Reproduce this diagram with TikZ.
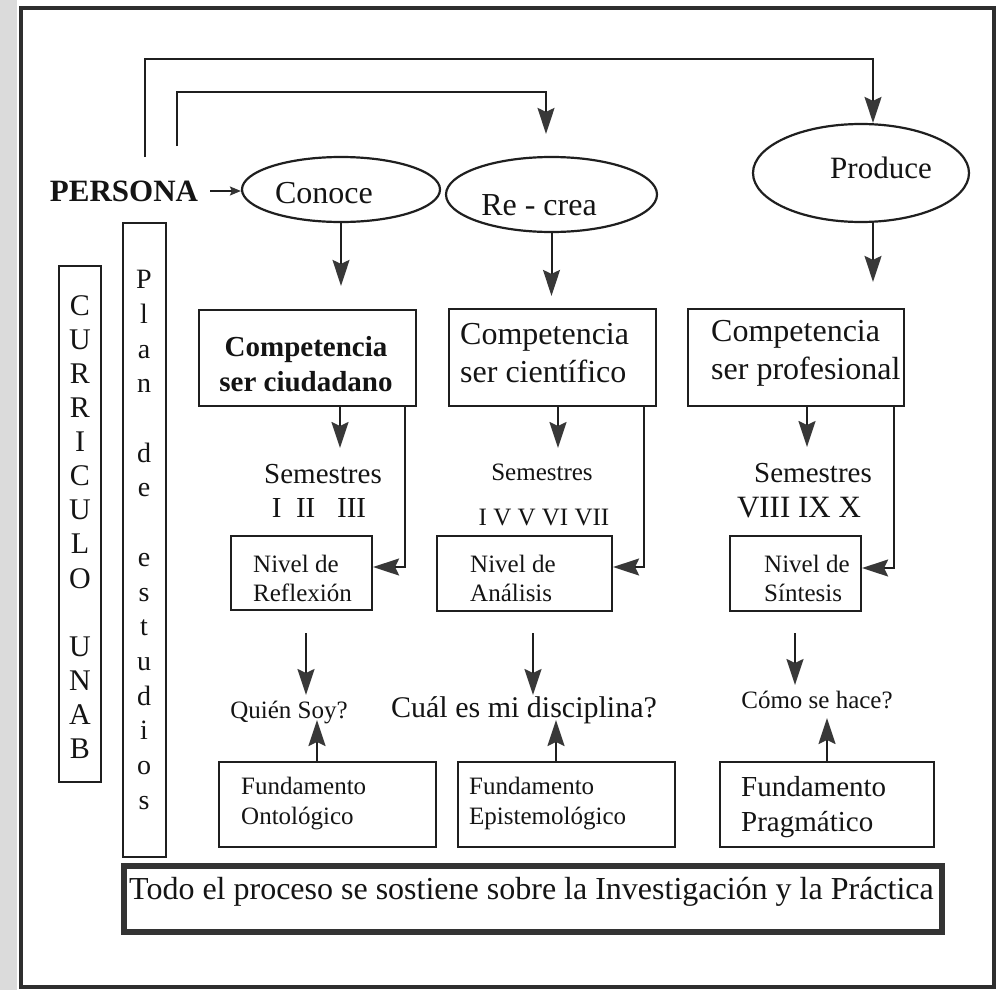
\documentclass[tikz,border=0pt]{standalone}
\usepackage{fontspec}
\setmainfont{Liberation Serif}
\usetikzlibrary{arrows.meta,shapes.geometric}

\tikzset{
  ink/.style={draw=black!88, line width=2.2pt},
  box/.style={ink, rectangle, inner sep=0pt},
  oval/.style={ink, ellipse, inner sep=0pt},
  txt/.style={inner sep=0pt, text=black!92},
  arr/.style={draw=black!88, line width=2pt,
    -{Stealth[length=26pt,width=17pt,inset=4pt,color=black!78]}},
  smallarr/.style={draw=black!88, line width=1.8pt,
    -{Stealth[length=11pt,width=9pt,inset=2pt,color=black!80]}},
  f/.style={font=\fontsize{#1}{#1}\selectfont},
}

\begin{document}
\begin{tikzpicture}[x=1pt,y=-1pt]
\useasboundingbox (0,0) rectangle (1000,990);
\fill[white] (0,0) rectangle (1000,990);
% scanned page edge and outer frame
\fill[black!14] (0,0) rectangle (17,990);
\draw[draw=black!82, line width=4.5pt] (21,8) rectangle (994,987);

% --- top row ---
\node[txt, font=\fontsize{31}{36}\selectfont\bfseries] (persona) at (124,191) {PERSONA};
\node[oval, minimum width=198pt, minimum height=65pt] (conoce) at (341,189.5) {};
\node[txt, font=\fontsize{32}{38}\selectfont] (conoceT) at (324,193) {Conoce};
\node[oval, minimum width=211pt, minimum height=75pt] (recrea) at (551.5,194.5) {};
\node[txt, font=\fontsize{32}{38}\selectfont] (recreaT) at (539,205) {Re - crea};
\node[oval, minimum width=216pt, minimum height=98pt] (produce) at (861,173) {};
\node[txt, font=\fontsize{31}{37}\selectfont] (produceT) at (881,168) {Produce};

\draw[smallarr, shorten <=12pt] (persona.east) -- (persona.east -| conoce.west);

\coordinate (o1) at (145,157);
\coordinate (k1) at (873,59);
\coordinate (o2) at (177,146);
\coordinate (k2) at (546,92);
\draw[arr] (o1) |- (k1) -- (produce.north -| k1);
\draw[arr, shorten >=22pt] (o2) |- (k2) -- (recrea.north -| k2);

% --- competence boxes ---
\node[box, minimum width=217pt, minimum height=96pt] (ciud) at (307.5,358) {};
\node[txt, font=\fontsize{29}{35}\selectfont\bfseries, align=center] (ciudT) at (306,364) {Competencia\\ser ciudadano};
\node[box, minimum width=207pt, minimum height=97pt] (cien) at (552.5,357.5) {};
\node[txt, font=\fontsize{32}{38}\selectfont, align=left, anchor=west] (cienT) at (460,353) {Competencia\\ser científico};
\node[box, minimum width=216pt, minimum height=97pt] (prof) at (796,357.5) {};
\node[txt, font=\fontsize{32}{38}\selectfont, align=left, anchor=west] (profT) at (711,353) {Competencia\\ser profesional};

\draw[arr, shorten >=23pt] (conoce.south) -- (conoce.south |- ciud.north);
\draw[arr, shorten >=12pt] (recrea.south) -- (recrea.south |- cien.north);
\draw[arr, shorten >=26pt] (produce.south -| k1) -- (k1 |- prof.north);

% --- semesters ---
\coordinate (a1) at (340,448);
\coordinate (a2) at (558,448);
\coordinate (a3) at (807,447);
\draw[arr] (ciud.south -| a1) -- (a1);
\draw[arr] (cien.south -| a2) -- (a2);
\draw[arr] (prof.south -| a3) -- (a3);

\node[txt, f=29] (sem1) at (323,474) {Semestres};
\node[txt, f=29] (num1) at (319,508) {I~~II~~~III};
\node[txt, f=25] (sem2) at (542,472) {Semestres};
\node[txt, f=25] (num2) at (544,517) {I V V VI VII};
\node[txt, f=29] (sem3) at (813,473) {Semestres};
\node[txt, f=31] (num3) at (799,508) {VIII IX X};

% --- levels ---
\node[box, minimum width=141pt, minimum height=74pt] (refl) at (301.5,573) {};
\node[txt, font=\fontsize{25}{29}\selectfont, align=left, anchor=west] (reflT) at (253,578) {Nivel de\\Reflexión};
\node[box, minimum width=175pt, minimum height=75pt] (anal) at (524.5,573.5) {};
\node[txt, font=\fontsize{25}{29}\selectfont, align=left, anchor=west] (analT) at (470,578) {Nivel de\\Análisis};
\node[box, minimum width=131pt, minimum height=75pt] (sint) at (795.5,573.5) {};
\node[txt, font=\fontsize{25}{29}\selectfont, align=left, anchor=west] (sintT) at (764,578) {Nivel de\\Síntesis};

\coordinate (b1) at (405,567);
\coordinate (b2) at (644,567);
\coordinate (b3) at (894,568);
\draw[arr] (ciud.south -| b1) |- (refl.east |- b1);
\draw[arr] (cien.south -| b2) |- (anal.east |- b2);
\draw[arr] (prof.south -| b3) |- (sint.east |- b3);

% --- questions ---
\coordinate (d1) at (306,695);
\coordinate (d2) at (533,695);
\coordinate (d3) at (795,685);
\draw[arr, shorten <=22pt] (refl.south -| d1) -- (d1);
\draw[arr, shorten <=21pt] (anal.south -| d2) -- (d2);
\draw[arr, shorten <=21pt] (sint.south -| d3) -- (d3);

\node[txt, f=25] (q1) at (289,712) {Quién Soy?};
\node[txt, f=30] (q2) at (524,710) {Cuál es mi disciplina?};
\node[txt, f=25] (q3) at (817,700) {Cómo se hace?};

% --- foundations ---
\node[box, minimum width=217pt, minimum height=85pt] (f1) at (327.5,804.5) {};
\node[txt, font=\fontsize{25}{30}\selectfont, align=left, anchor=west] (f1T) at (241,804) {Fundamento\\Ontológico};
\node[box, minimum width=217pt, minimum height=85pt] (f2) at (566.5,804.5) {};
\node[txt, font=\fontsize{25}{30}\selectfont, align=left, anchor=west] (f2T) at (469,804) {Fundamento\\Epistemológico};
\node[box, minimum width=214pt, minimum height=85pt] (f3) at (827,804.5) {};
\node[txt, font=\fontsize{29}{35}\selectfont, align=left, anchor=west] (f3T) at (741,807) {Fundamento\\Pragmático};

\coordinate (u1) at (317,720);
\coordinate (u2) at (556,720);
\coordinate (u3) at (827,718);
\draw[arr] (f1.north -| u1) -- (u1);
\draw[arr] (f2.north -| u2) -- (u2);
\draw[arr] (f3.north -| u3) -- (u3);

% --- side columns ---
\node[box, minimum width=42pt, minimum height=516pt] (cur) at (80,524) {};
\node[txt, font=\fontsize{30}{34.1}\selectfont, align=center] (curT) at (80,527)
  {C\\U\\R\\R\\I\\C\\U\\L\\O\\[34.1pt]U\\N\\A\\B};
\node[box, minimum width=43pt, minimum height=634pt] (plan) at (144.5,540) {};
\node[txt, font=\fontsize{28}{34.7}\selectfont, align=center] (planT) at (144,540)
  {P\\l\\a\\n\\[34.7pt]d\\e\\[34.7pt]e\\s\\t\\u\\d\\i\\o\\s};

% --- base ---
\node[draw=black!80, line width=6pt, inner sep=0pt, minimum width=818pt, minimum height=66pt] (todo) at (533,899) {};
\node[txt, f=32, anchor=west] (todoT) at (129,892) {Todo el proceso se sostiene sobre la Investigación y la Práctica};
\end{tikzpicture}
\end{document}
